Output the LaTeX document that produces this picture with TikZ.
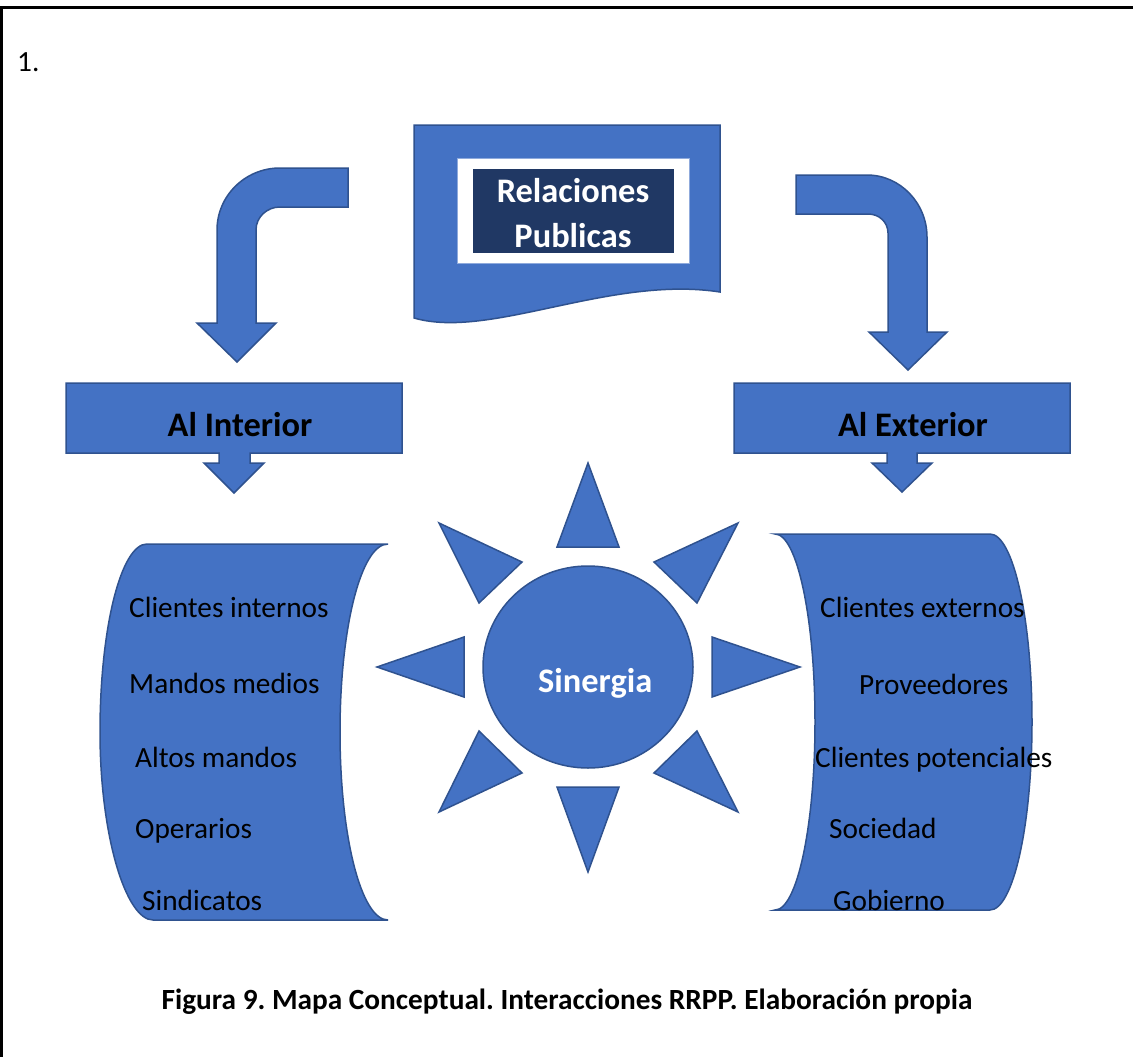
\documentclass[tikz,border=0pt]{standalone}
\usepackage{fontspec}
\setmainfont{Carlito}
\frenchspacing
\definecolor{shapeblue}{HTML}{4472C4}
\definecolor{shapeedge}{HTML}{2F528F}
\definecolor{navy}{HTML}{203864}
\definecolor{paleedge}{HTML}{8FAADC}
\tikzset{
  blueshape/.style={fill=shapeblue, draw=shapeedge, line width=1.5pt, line join=miter},
  itemtext/.style={anchor=base west, inner sep=0pt, font=\fontsize{29.3}{35}\selectfont, text=black},
  boldlabel/.style={anchor=base, inner sep=0pt, font=\fontsize{34.4}{41}\selectfont\bfseries},
}
\begin{document}
\begin{tikzpicture}[x=1pt,y=-1pt]
\useasboundingbox (0,0) rectangle (1133,1057);
\fill[white] (0,0) rectangle (1133,1057);
% frame
\draw[line width=3pt] (1.5,1057) -- (1.5,8) -- (1133,8);
\node[itemtext] (num) at (17,72) {1.};

% document shape
\path[blueshape] (414,125) -- (720,125) -- (720,292)
  .. controls (610,275) and (490,340) .. (414,318) -- cycle;
\fill[white, draw=paleedge, line width=1pt] (457,158) rectangle (689,263);
\fill[navy] (473,169) rectangle (674,253);
\node[boldlabel, text=white] (rel1) at (573,202) {Relaciones};
\node[boldlabel, text=white] (rel2) at (573,247) {Publicas};

% left bent arrow
\path[blueshape] (348,168) -- (280,168) .. controls (245,168) and (217,196) .. (217,230)
  -- (217,323) -- (197,323) -- (237,362) -- (276,323) -- (256,323) -- (256,230)
  .. controls (256,217) and (267,207) .. (280,207) -- (348,207) -- cycle;
% right bent arrow
\path[blueshape] (796,175) -- (867,175) .. controls (900,175) and (927,203) .. (927,237)
  -- (927,332) -- (947,332) -- (908,370) -- (869,332) -- (888,332) -- (888,233)
  .. controls (888,222) and (879,214) .. (868,214) -- (796,214) -- cycle;

% callouts
\path[blueshape] (66,383) -- (402,383) -- (402,453) -- (250,453) -- (250,463) -- (264,463)
  -- (234,493) -- (204,463) -- (219,463) -- (219,453) -- (66,453) -- cycle;
\node[boldlabel, text=black] (interior) at (240,436) {Al Interior};
\path[blueshape] (734,383) -- (1070,383) -- (1070,453) -- (917,453) -- (917,463) -- (932,463)
  -- (902,492) -- (872,463) -- (887,463) -- (887,453) -- (734,453) -- cycle;
\node[boldlabel, text=black] (exterior) at (913,436) {Al Exterior};

% left scroll
\path[blueshape] (147,544) -- (388,544) .. controls (361,544) and (340,628) .. (340,732)
  .. controls (340,836) and (361,920) .. (388,920) -- (153,920)
  .. controls (126,920) and (100,836) .. (100,732)
  .. controls (100,628) and (121,544) .. (147,544) -- cycle;
\node[itemtext] (i1) at (129,617) {Clientes internos};
\node[itemtext] (i2) at (129,693) {Mandos medios};
\node[itemtext] (i3) at (135,767) {Altos mandos};
\node[itemtext] (i4) at (135,838) {Operarios};
\node[itemtext] (i5) at (142,910) {Sindicatos};

% right scroll
\path[blueshape] (775,534) -- (990,534) .. controls (1013,534) and (1032,618) .. (1032,722)
  .. controls (1032,826) and (1013,910) .. (990,910) -- (775,910)
  .. controls (797,910) and (815,826) .. (815,722)
  .. controls (815,618) and (797,534) .. (775,534) -- cycle;
\node[itemtext] (e1) at (820,617) {Clientes externos};
\node[itemtext] (e2) at (859,694) {Proveedores};
\node[itemtext] (e3) at (815,767) {Clientes potenciales};
\node[itemtext] (e4) at (829,838) {Sociedad};
\node[itemtext] (e5) at (833,910) {Gobierno};

% sun
\path[blueshape] (588,667) ellipse [x radius=105, y radius=101];
\node[anchor=base west, inner sep=0pt, font=\fontsize{34.4}{41}\selectfont\bfseries, text=white] (sin) at (538,692) {Sinergia};
\path[blueshape] (588,463) -- (619,547) -- (557,547) -- cycle;
\path[blueshape] (588,872) -- (619,787) -- (557,787) -- cycle;
\path[blueshape] (377,667) -- (464,637) -- (464,697) -- cycle;
\path[blueshape] (800,667) -- (712,637) -- (712,697) -- cycle;
\path[blueshape] (439,523) -- (522,562) -- (479,603) -- cycle;
\path[blueshape] (738,523) -- (654,562) -- (697,603) -- cycle;
\path[blueshape] (439,812) -- (522,773) -- (479,731) -- cycle;
\path[blueshape] (738,812) -- (654,773) -- (697,731) -- cycle;

% caption
\node[anchor=base, inner sep=0pt, font=\fontsize{29.3}{35}\selectfont\bfseries] (cap) at (567,1009)
  {Figura 9. Mapa Conceptual. Interacciones RRPP. Elaboración propia};
\end{tikzpicture}
\end{document}
